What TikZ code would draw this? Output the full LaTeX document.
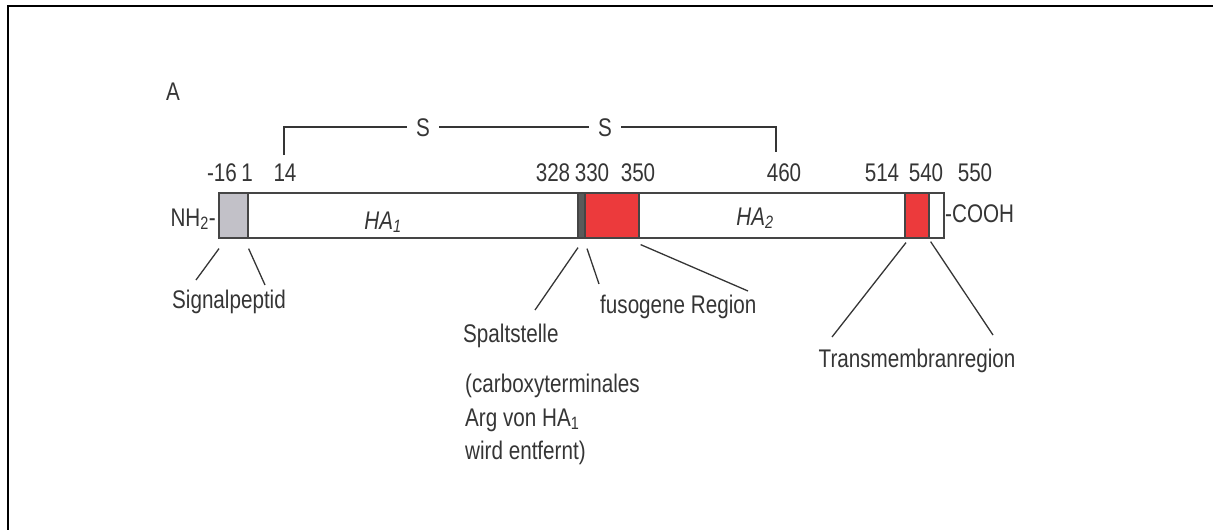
\documentclass[tikz,border=0pt]{standalone}
\usepackage{fontspec}
\setmainfont[FakeStretch=0.81]{Liberation Sans}
\usetikzlibrary{calc}
\definecolor{ink}{HTML}{353535}
\definecolor{edge}{HTML}{454545}
\definecolor{sigfill}{HTML}{C2C1C8}
\definecolor{fusion}{HTML}{EC3A3C}
\definecolor{strip}{HTML}{5A5A5A}
\begin{document}
\begin{tikzpicture}[x=1pt,y=-1pt,
  every node/.style={text=ink, font=\fontsize{25.5}{30}\selectfont, inner sep=0pt},
  segbox/.style={draw=edge, line width=1.6pt, minimum height=45pt, anchor=north west, inner sep=0pt},
  leader/.style={draw=ink, line width=1.3pt},
  bond/.style={draw=ink, line width=1.8pt},
  framebar/.style={draw=black, line width=2.6pt}]
\useasboundingbox (0,0) rectangle (1213,530);

% frame
\draw[framebar] (8,530) -- (8,6) -- (1213,6);

% panel letter
\node[anchor=base west] (panel) at (166,100) {A};

% protein bar segments
\node[segbox, fill=sigfill, minimum width=29pt] (sig)  at (218,192) {};
\node[segbox, minimum width=330pt]              (ha1)  at (247,192) {};
\node[segbox, fill=strip, minimum width=7pt]    (cut)  at (577,192) {};
\node[segbox, fill=fusion, minimum width=54pt]  (fus)  at (584,192) {};
\node[segbox, minimum width=266pt]              (ha2)  at (638,192) {};
\node[segbox, fill=fusion, minimum width=24pt]  (tm)   at (904,192) {};
\node[segbox, minimum width=15pt]               (tail) at (928,192) {};

% chain labels
\node[anchor=base] (ha1lbl) at (383,229) {\textit{HA\textsubscript{1}}};
\node[anchor=base] (ha2lbl) at (755,225) {\textit{HA\textsubscript{2}}};
\node[anchor=base east] (nterm) at (216,226) {NH\textsubscript{2}-};
\node[anchor=base west] (cterm) at (945,222) {-COOH};

% residue numbers
\foreach \nm/\px/\txt in {n16/222/-16, n1/247/1, n14/285/14, n328/553/328, n330/592/330,
  n350/638/350, n460/784/460, n514/882/514, n540/926/540, n550/975/550}
  \node[anchor=base] (\nm) at (\px,181) {\txt};

% disulfide bridge 14 -- 460
\node[anchor=base] (s1) at (423,136) {S};
\node[anchor=base] (s2) at (605,136) {S};
\coordinate (c14) at (284,155);
\coordinate (c460) at (776,152);
\draw[bond] (c14) |- ([xshift=-9pt]s1.west);
\draw[bond] ([xshift=9pt]s1.east) -- ([xshift=-9pt]s2.west);
\draw[bond] ([xshift=9pt]s2.east) -| (c460);

% annotations
\node[anchor=base] (siglbl) at (229,308) {Signalpeptid};
\node[anchor=base west] (fuslbl) at (600,313) {fusogene Region};
\node[anchor=base west] (cutlbl) at (463,342) {Spaltstelle};
\node[anchor=base west] (note1) at (465,392) {(carboxyterminales};
\node[anchor=base west] (note2) at (465,426) {Arg von HA\textsubscript{1}};
\node[anchor=base west] (note3) at (465,459) {wird entfernt)};
\node[anchor=base] (tmlbl) at (917,367) {Transmembranregion};

% leader lines
\coordinate (e1) at (196,280);
\coordinate (e2) at (265,285);
\coordinate (e3) at (535,310);
\coordinate (e4) at (599,284);
\coordinate (e5) at (748,291);
\coordinate (e6) at (832,337);
\coordinate (e7) at (993,335);
\draw[leader] ($(sig.south west)+(1,10)$) -- (e1);
\draw[leader] ($(sig.south east)+(0,10)$) -- (e2);
\draw[leader] ($(cut.south west)+(1,9)$) -- (e3);
\draw[leader] ($(fus.south west)+(3,10)$) -- (e4);
\draw[leader] ($(fus.south east)+(1,6)$) -- (e5);
\draw[leader] ($(tm.south west)+(2,4)$) -- (e6);
\draw[leader] ($(tm.south east)+(1,3)$) -- (e7);
\end{tikzpicture}
\end{document}
